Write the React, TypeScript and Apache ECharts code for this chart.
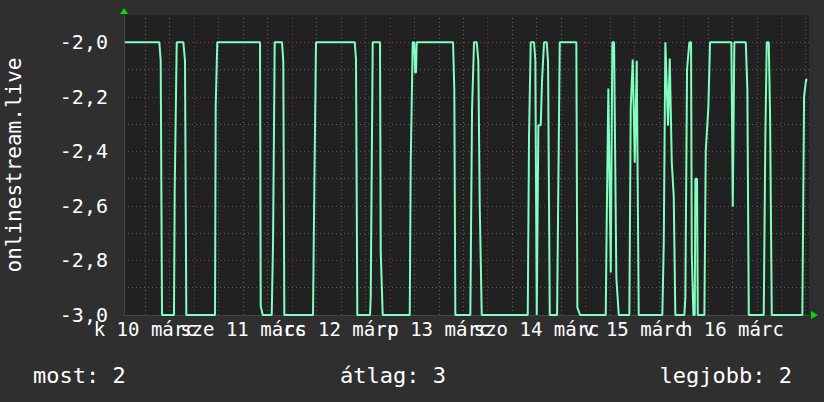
import React, { useEffect, useRef } from 'react';
import * as echarts from 'echarts';

// hours since 10 March 00:00
const hours = [
  7.0, 15.46, 15.8, 16.12, 19.06, 19.24, 19.73, 21.35, 21.76, 22.08,
  29.12, 29.29, 29.68, 40.16, 40.33, 40.82, 43.03, 43.35, 43.76, 45.55,
  45.87, 46.12, 53.16, 53.4, 53.89, 63.39, 63.7, 64.02, 67.14, 67.31,
  67.48, 67.8, 69.59, 69.76, 70.25, 76.88, 77.12, 77.61, 78.0, 78.18,
  78.42, 78.59, 87.5, 87.81, 88.06, 91.74, 92.16, 92.65, 93.31, 93.7,
  94.05, 94.54, 105.82, 106.14, 106.55, 107.36, 107.68, 108.03, 108.42, 109.01,
  109.33, 109.82, 110.48, 110.8, 111.22, 113.01, 113.25, 113.67, 117.74, 117.99,
  118.65, 124.95, 125.2, 125.59, 126.18, 126.57, 126.99, 127.55, 128.14, 130.74,
  131.08, 131.57, 132.06, 132.55, 133.04, 138.83, 139.18, 139.57, 140.23, 140.65,
  141.14, 141.63, 142.02, 144.23, 144.48, 144.89, 145.46, 145.87, 146.05, 146.44,
  146.78, 146.93, 147.34, 147.52, 149.14, 149.48, 150.12, 150.53, 155.76, 156.1,
  156.49, 159.29, 159.68, 160.03, 163.7, 164.1, 164.44, 164.93, 165.25, 165.67,
  173.17, 173.59, 174.08, 174.4,
];
const values = [
  -2.0, -2.0, -2.066, -3.0, -3.0, -2.537, -2.0, -2.0, -2.068, -3.0,
  -3.0, -2.234, -2.0, -2.0, -2.967, -3.0, -3.0, -2.739, -2.0, -2.0,
  -2.07, -3.0, -3.0, -2.636, -2.0, -2.0, -2.063, -3.0, -3.0, -2.935,
  -2.935, -2.0, -2.0, -2.768, -3.0, -3.0, -2.44, -2.0, -2.0, -2.111,
  -2.111, -2.0, -2.0, -2.172, -3.0, -3.0, -2.245, -2.0, -2.0, -2.068,
  -2.604, -3.0, -3.0, -2.342, -2.0, -2.0, -2.066, -3.0, -2.304, -2.304,
  -2.139, -2.0, -2.0, -2.072, -3.0, -3.0, -2.642, -2.0, -2.0, -2.973,
  -3.0, -3.0, -2.636, -2.17, -2.844, -2.0, -2.0, -2.862, -3.0, -3.0,
  -2.239, -2.063, -2.442, -2.068, -3.0, -3.0, -2.737, -2.0, -2.306, -2.06,
  -2.438, -2.567, -3.0, -3.0, -2.935, -2.099, -2.0, -2.0, -2.772, -3.0,
  -3.0, -2.5, -2.5, -3.0, -3.0, -2.398, -2.237, -2.0, -2.0, -2.603,
  -2.0, -2.0, -2.17, -3.0, -3.0, -2.341, -2.0, -2.0, -2.266, -3.0,
  -3.0, -2.2, -2.137, -2.137,
];

const dayLabels = ['k 10 márc', 'sze 11 márc', 'cs 12 márc', 'p 13 márc', 'szo 14 márc', 'v 15 márc', 'h 16 márc'];
const dayLabelHours = [12, 36, 60, 84, 108, 132, 156];
const gridHours = [
  12, 18, 24, 30, 36, 42, 48, 54, 60, 66, 72, 78, 84, 90, 96, 102, 108, 114,
  120, 126, 132, 138, 144, 150, 156, 162, 168, 174,
];
const legendTexts = ['most: 2', 'átlag: 3', 'legjobb: 2'];
const yAxisTitle = 'onlinestream.live';

const FONT = 'DejaVu Sans Mono, monospace';
const MINOR = '#5e5e5e';
const MAJOR = '#883a3a';
const X_MIN = 6.8;
const X_MAX = 174.8;

export default function App() {
  const ref = useRef<HTMLDivElement>(null);
  useEffect(() => {
    document.body.style.margin = '0';
    const chart = echarts.init(ref.current!, null, { renderer: 'svg' });
    const data = hours.map((h, i) => [h, values[i]]);
    const labelFor = (v: number) => {
      const i = Math.round((v - 12) / 24);
      return dayLabels[i] ?? '';
    };
    // split labels over two overlaid axes so that overlapping labels are all kept (as in the original)
    const evenLabels = dayLabelHours.filter((_, i) => i % 2 === 0);
    const oddLabels = dayLabelHours.filter((_, i) => i % 2 === 1);
    const labelStyle = {
      color: '#ffffff',
      fontFamily: FONT,
      fontSize: 19,
      margin: 4,
      formatter: labelFor,
    };
    chart.setOption({
      animation: false,
      backgroundColor: '#2f2f2f',
      grid: {
        left: 124, top: 15, right: 15, bottom: 87,
        containLabel: false,
        outerBoundsMode: 'none',
        show: true, backgroundColor: '#212121', borderWidth: 0,
      },
      xAxis: [
        {
          type: 'value',
          position: 'bottom',
          min: X_MIN,
          max: X_MAX,
          axisLine: { show: true, lineStyle: { color: '#454545', width: 1 } },
          axisTick: { show: false },
          axisLabel: { ...labelStyle, customValues: evenLabels },
          splitLine: { show: false },
        },
        {
          type: 'value',
          position: 'bottom',
          min: X_MIN,
          max: X_MAX,
          axisLine: { show: false },
          axisTick: { show: false },
          axisLabel: { ...labelStyle, customValues: oddLabels },
          splitLine: { show: false },
        },
      ],
      yAxis: {
        type: 'value',
        min: -3,
        max: -1.9,
        interval: 0.1,
        name: yAxisTitle,
        nameLocation: 'middle',
        nameRotate: 90,
        nameGap: 100,
        nameTextStyle: { color: '#ffffff', fontFamily: FONT, fontSize: 21 },
        axisLine: { show: true, lineStyle: { color: '#454545', width: 1 } },
        axisTick: { show: false },
        axisLabel: {
          color: '#ffffff',
          fontFamily: FONT,
          fontSize: 20,
          margin: 16,
          showMaxLabel: false,
          formatter: (v: number) => {
            const k = Math.round(v * 10);
            if (k % 2 !== 0) return '';
            return (k / 10).toFixed(1).replace('.', ',');
          },
        },
        splitLine: {
          show: true,
          showMaxLine: false,
          lineStyle: { color: [MAJOR, MINOR], type: [1, 3], width: 1 },
        },
      },
      graphic: [
        { type: 'polygon', shape: { points: [[120, 14], [128, 14], [124, 8]] }, style: { fill: '#00dd00' }, z: 100 },
        { type: 'polygon', shape: { points: [[811, 311], [811, 319], [818, 315]] }, style: { fill: '#00dd00' }, z: 100 },
        { type: 'text', left: 33, top: 364, style: { text: legendTexts[0], fill: '#ffffff', font: `22px ${FONT}` } },
        { type: 'text', left: 340, top: 364, style: { text: legendTexts[1], fill: '#ffffff', font: `22px ${FONT}` } },
        { type: 'text', right: 32, top: 364, style: { text: legendTexts[2], fill: '#ffffff', font: `22px ${FONT}` } },
      ],
      series: [
        {
          type: 'line',
          xAxisIndex: 0,
          data,
          showSymbol: false,
          symbol: 'none',
          lineStyle: { color: '#80ffc0', width: 2 },
          z: 5,
          markLine: {
            silent: true,
            symbol: ['none', 'none'],
            label: { show: false },
            z: 1,
            data: gridHours.map((h) => ({
              xAxis: h,
              lineStyle: { color: h % 24 === 0 ? MAJOR : MINOR, type: [1, 3], width: 1 },
            })),
          },
        },
      ],
    });
    return () => chart.dispose();
  }, []);
  return <div ref={ref} style={{ width: 824, height: 402 }} />;
}
